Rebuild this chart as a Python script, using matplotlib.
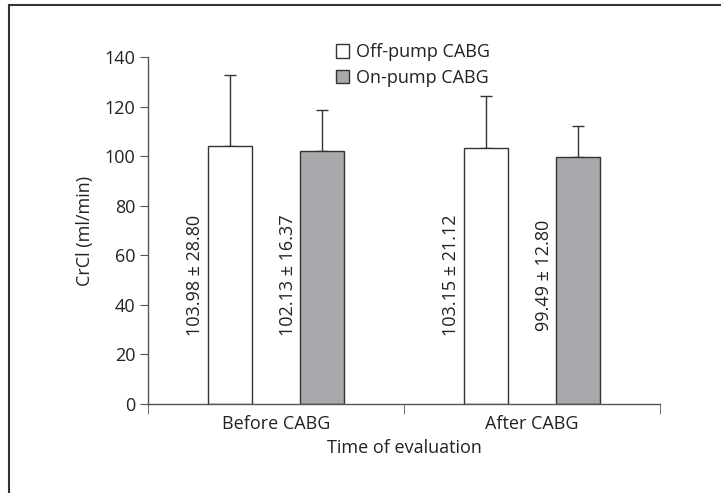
import numpy as np
import matplotlib.pyplot as plt
from matplotlib.patches import Patch
from matplotlib.lines import Line2D

plt.rcParams['font.family'] = ['Open Sans', 'DejaVu Sans']

categories = ["Before CABG", "After CABG"]
seriesNames = ["Off-pump CABG", "On-pump CABG"]
offPumpMean = [103.98, 103.15]
offPumpSd = [28.80, 21.12]
onPumpMean = [102.13, 99.49]
onPumpSd = [16.37, 12.80]
yTicks = [0, 20, 40, 60, 80, 100, 120, 140]

edgeDark = "#333333"
axisGray = "#555555"
textColor = "#222222"
fillColors = ["white", "#a7a9ac"]


def main():
    fig = plt.figure(figsize=(7.21, 4.93), dpi=100)
    ax = fig.add_axes([0.2053, 0.1805, 0.7101, 0.7039])

    x = np.arange(len(categories))
    width = 0.17
    offset = 0.18
    means = [offPumpMean, onPumpMean]
    sds = [offPumpSd, onPumpSd]

    for i, (m, s) in enumerate(zip(means, sds)):
        pos = x + (offset if i else -offset)
        ax.bar(pos, m, width, color=fillColors[i], edgecolor=edgeDark,
               linewidth=1.0, zorder=2)
        ax.errorbar(pos, m, yerr=[np.zeros(len(s)), s], fmt="none",
                    ecolor=edgeDark, elinewidth=1.0, capsize=4, capthick=1.0,
                    zorder=1)
        for xp, mv, sv in zip(pos, m, s):
            ax.text(xp - width / 2 - 0.05, 52, f"{mv:.2f} ± {sv:.2f}",
                    rotation=90, ha="center", va="center", fontsize=13,
                    color=textColor)

    ax.set_xlim(-0.5, 1.5)
    ax.set_ylim(0, 140)
    ax.set_yticks(yTicks)
    ax.set_xticks(x)
    ax.set_xticklabels(categories)
    ax.set_xticks([-0.5, 0.5, 1.5], minor=True)
    ax.tick_params(axis="x", which="major", length=0, pad=8, labelsize=13,
                   labelcolor=textColor)
    ax.tick_params(axis="x", which="minor", length=7, color=axisGray, direction="out")
    ax.tick_params(axis="y", length=6, color=axisGray, labelsize=13,
                   labelcolor=textColor, pad=3)

    for side in ["top", "right"]:
        ax.spines[side].set_visible(False)
    for side in ["left", "bottom"]:
        ax.spines[side].set_color(axisGray)
        ax.spines[side].set_linewidth(1.0)

    ax.set_ylabel("CrCl (ml/min)", fontsize=13, color=textColor, labelpad=8)
    ax.set_xlabel("Time of evaluation", fontsize=13, color=textColor, labelpad=4)

    handles = [Patch(facecolor=c, edgecolor=edgeDark, linewidth=1.0) for c in fillColors]
    fig.legend(handles, seriesNames, loc="upper left",
               bbox_to_anchor=(0.443, 0.945), frameon=False, fontsize=13,
               handlelength=0.75, handleheight=0.75, handletextpad=0.35,
               labelspacing=0.4, labelcolor=textColor)

    # open frame around the figure (top and left)
    fig.add_artist(Line2D([0.0125, 1.0], [0.990, 0.990], color="#333333",
                          linewidth=1.5, transform=fig.transFigure))
    fig.add_artist(Line2D([0.0125, 0.0125], [0.0, 0.990], color="#333333",
                          linewidth=1.5, transform=fig.transFigure))

    fig.savefig("out.png", dpi=100)
    plt.close(fig)


if __name__ == "__main__":
    main()
